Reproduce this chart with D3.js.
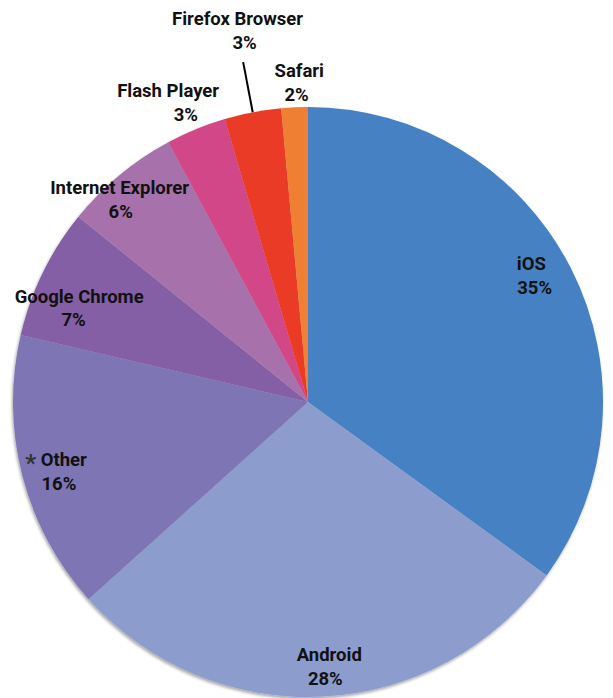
<!DOCTYPE html>
<html>
<head>
<meta charset="utf-8">
<script src="https://cdn.jsdelivr.net/npm/d3@7"></script>
<style>
  body { margin: 0; background: #fff; }
  text { font-family: Roboto, "Noto Sans", sans-serif; font-weight: bold; font-size: 18.5px; fill: #111; }
</style>
</head>
<body>
<div id="chart"></div>
<script>
// Slices, clockwise from 12 o'clock
var categories = ["iOS", "Android", "Other", "Google Chrome", "Internet Explorer", "Flash Player", "Firefox Browser", "Safari"];
var values = [35.0, 28.35, 15.3, 7.15, 6.35, 3.3, 3.1, 1.45];
var percentLabels = ["35%", "28%", "16%", "7%", "6%", "3%", "3%", "2%"];
var colors = ["#4581c3", "#8b9ccd", "#7e74b5", "#855ea6", "#a771ab", "#d14687", "#ea3a28", "#ef7f30"];

var w = 613, h = 698;
var cx = 308, cy = 402, radius = 295;
// label placement: distance from centre (px), small angle nudge (deg),
// and horizontal offset of the name line against the percent line (px)
var labelRadius = [258, 265, 260, 250, 276, 327, 378, 320];
var labelShift = [-2.3, -1.2, -1.1, -3.9, -3.2, -1.3, 0.6, 0.8];
var nameOffset = [-3.3, 3.9, -2.8, 5.5, -1.1, -17.7, -7, 2.7];

var svg = d3.select("#chart").append("svg")
    .attr("width", w)
    .attr("height", h);

var defs = svg.append("defs");
var filter = defs.append("filter").attr("id", "shadow")
    .attr("x", "-5%").attr("y", "-5%").attr("width", "110%").attr("height", "110%");
filter.append("feDropShadow")
    .attr("dx", -1).attr("dy", 2).attr("stdDeviation", 1.5)
    .attr("flood-color", "#000").attr("flood-opacity", 0.35);

var g = svg.append("g").attr("transform", "translate(" + cx + "," + cy + ")");

var pie = d3.pie().sort(null).value(function (d) { return d; });
var arcs = pie(values);

var arc = d3.arc().innerRadius(0).outerRadius(radius);

g.append("g").attr("filter", "url(#shadow)")
    .selectAll("path")
    .data(arcs)
    .enter()
    .append("path")
    .attr("d", arc)
    .attr("fill", function (d, i) { return colors[i]; });

function pointAt(a, r) {
    return [r * Math.sin(a), -r * Math.cos(a)];
}

// leader line for Firefox
var ff = arcs[6];
var ffMid = (ff.startAngle + ff.endAngle) / 2;
var p1 = pointAt(ffMid, radius), p2 = pointAt(ffMid, 346);
g.append("line")
    .attr("x1", p1[0]).attr("y1", p1[1])
    .attr("x2", p2[0]).attr("y2", p2[1])
    .attr("stroke", "#000")
    .attr("stroke-width", 2);

// labels
var labels = g.selectAll(".label")
    .data(arcs)
    .enter()
    .append("text")
    .attr("class", "label")
    .attr("text-anchor", "middle")
    .attr("transform", function (d, i) {
        var a = (d.startAngle + d.endAngle) / 2 + labelShift[i] * Math.PI / 180;
        var p = pointAt(a, labelRadius[i]);
        return "translate(" + p[0] + "," + p[1] + ")";
    });

labels.append("tspan")
    .attr("x", function (d, i) { return nameOffset[i] / 2; })
    .attr("y", -5.4)
    .each(function (d, i) {
        var t = d3.select(this);
        if (categories[i] === "Other") {
            t.append("tspan").attr("fill", "#333").attr("font-size", "24px").attr("dy", 5).text("*");
            t.append("tspan").attr("dy", -5).text(" " + categories[i]);
        } else {
            t.text(categories[i]);
        }
    });

labels.append("tspan")
    .attr("x", function (d, i) { return -nameOffset[i] / 2; })
    .attr("y", 18.6)
    .text(function (d, i) { return percentLabels[i]; });
</script>
</body>
</html>
